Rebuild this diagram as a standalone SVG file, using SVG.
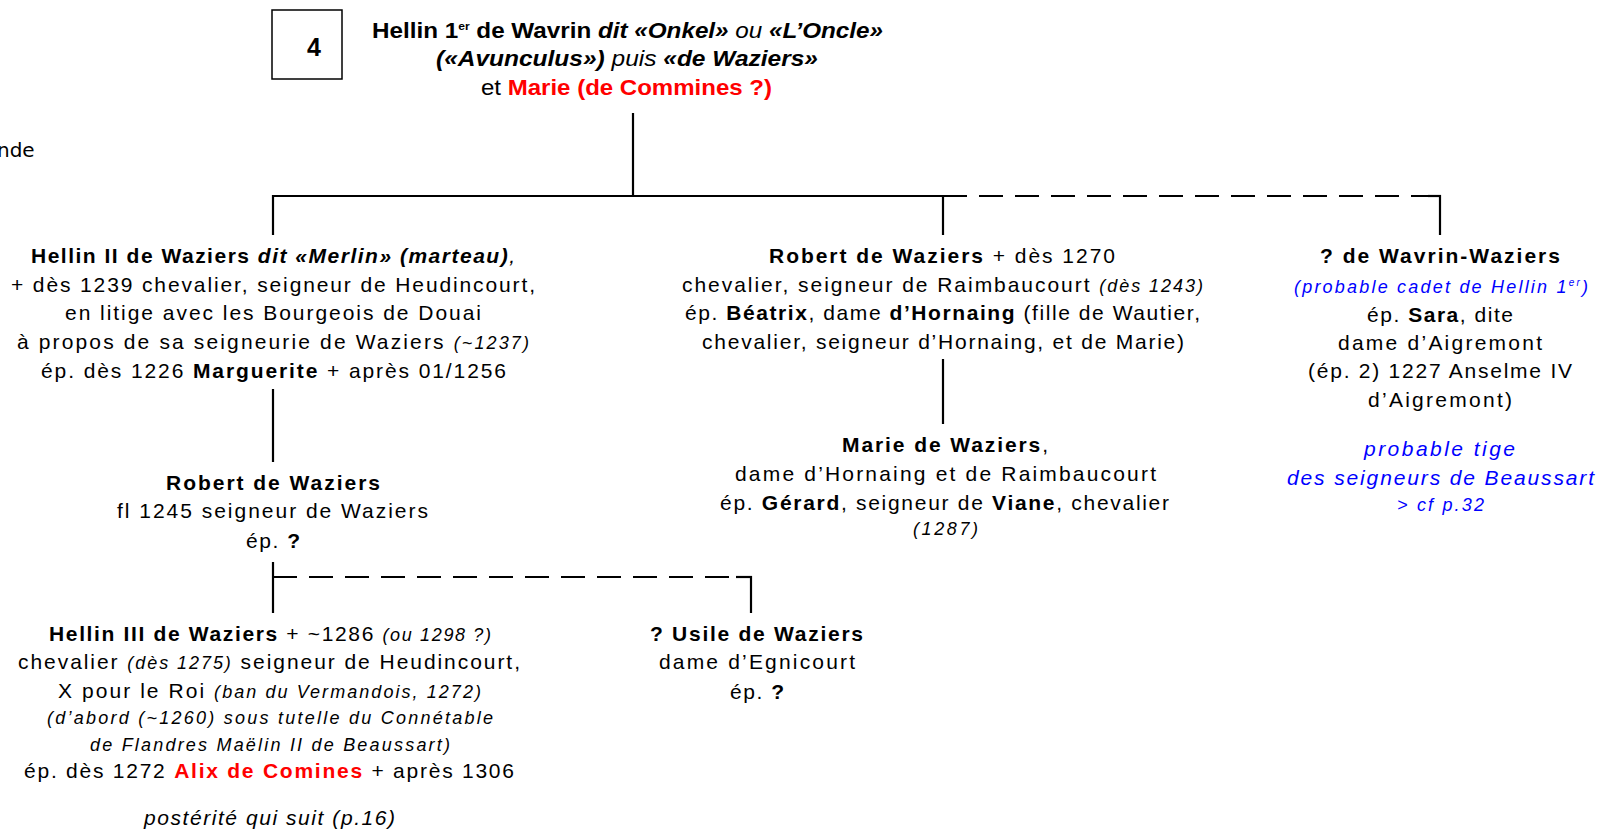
<svg xmlns="http://www.w3.org/2000/svg" width="1600" height="831" viewBox="0 0 1600 831">
<style>
text { font-family: "Liberation Sans", Arial, sans-serif; font-size: 21px; fill: #000; text-anchor: middle; }
.b { font-weight: bold; }
.i { font-style: italic; }
.s { font-size: 18px; }
.red { fill: #ff0000; }
.blue { fill: #0000ff; }
.ti { font-size: 22px; }
.ln { stroke: #000; stroke-width: 2.2; fill: none; }
.dash { stroke-dasharray: 24 12; }
</style>
<rect width="1600" height="831" fill="#fff"/>

<g id="connectors">
  <line class="ln" x1="633" y1="113" x2="633" y2="197"/>
  <line class="ln" x1="272" y1="196" x2="943" y2="196"/>
  <line class="ln dash" x1="943" y1="196" x2="1428" y2="196"/>
  <line class="ln" x1="1428" y1="196" x2="1441" y2="196"/>
  <line class="ln" x1="273" y1="195" x2="273" y2="235"/>
  <line class="ln" x1="943" y1="195" x2="943" y2="235"/>
  <line class="ln" x1="1440" y1="195" x2="1440" y2="235"/>
  <line class="ln" x1="273" y1="389" x2="273" y2="462"/>
  <line class="ln" x1="943" y1="359" x2="943" y2="424"/>
  <line class="ln" x1="273" y1="562" x2="273" y2="613"/>
  <line class="ln dash" x1="273" y1="577" x2="740" y2="577"/>
  <line class="ln" x1="736" y1="577" x2="752" y2="577"/>
  <line class="ln" x1="751" y1="576" x2="751" y2="613"/>
</g>

<g id="margin-text">
  <text x="-3" y="157" style="text-anchor:start;font-family:'DejaVu Sans',sans-serif;font-size:20px">nde</text>
</g>

<g id="box4">
  <rect x="272" y="10" width="70" height="69" fill="#fff" stroke="#000" stroke-width="1.5"/>
  <text x="314" y="56" class="b" style="font-size:25px">4</text>
</g>

<g id="n-hellin1">
  <text class="ti b" x="627.5" y="38" textLength="511" lengthAdjust="spacingAndGlyphs">Hellin 1<tspan dy="-8" style="font-size:11px">er</tspan><tspan dy="8"> de Wavrin </tspan><tspan class="i">dit «Onkel»</tspan><tspan style="font-weight:normal;font-style:italic"> ou </tspan><tspan class="i">«L’Oncle»</tspan></text>
  <text class="ti b i" x="627" y="66" textLength="382" lengthAdjust="spacingAndGlyphs">(«Avunculus»)<tspan style="font-weight:normal"> puis </tspan>«de Waziers»</text>
  <text class="ti" x="626.5" y="95" textLength="291" lengthAdjust="spacingAndGlyphs">et <tspan class="b red">Marie (de Commines ?)</tspan></text>
</g>

<g id="n-hellin2">
  <text x="273" y="263" textLength="484" class="b">Hellin II de Waziers <tspan class="i">dit «Merlin» (marteau)</tspan><tspan style="font-weight:normal;font-style:italic">,</tspan></text>
  <text x="273" y="292" textLength="524">+ dès 1239 chevalier, seigneur de Heudincourt,</text>
  <text x="273" y="320" textLength="416">en litige avec les Bourgeois de Douai</text>
  <text x="273" y="349" textLength="512">à propos de sa seigneurie de Waziers <tspan class="i s">(~1237)</tspan></text>
  <text x="273.5" y="378" textLength="465">ép. dès 1226 <tspan class="b">Marguerite</tspan> + après 01/1256</text>
</g>

<g id="n-robert1">
  <text x="273" y="490" textLength="214" class="b">Robert de Waziers</text>
  <text x="272.5" y="518" textLength="311">fl 1245 seigneur de Waziers</text>
  <text x="273" y="548" textLength="54">ép. <tspan class="b">?</tspan></text>
</g>

<g id="n-hellin3">
  <text x="270" y="641" textLength="442"><tspan class="b">Hellin III de Waziers</tspan> + ~1286 <tspan class="i s">(ou 1298 ?)</tspan></text>
  <text x="269" y="669" textLength="502">chevalier <tspan class="i s">(dès 1275)</tspan> seigneur de Heudincourt,</text>
  <text x="269.5" y="698" textLength="423">X pour le Roi <tspan class="i s">(ban du Vermandois, 1272)</tspan></text>
  <text x="270" y="724" textLength="446" class="i s">(d’abord (~1260) sous tutelle du Connétable</text>
  <text x="270" y="751" textLength="360" class="i s">de Flandres Maëlin II de Beaussart)</text>
  <text x="269" y="778" textLength="490">ép. dès 1272 <tspan class="b red">Alix de Comines</tspan> + après 1306</text>
  <text x="269.5" y="825" textLength="251" class="i">postérité qui suit (p.16)</text>
</g>

<g id="n-usile">
  <text x="756.5" y="641" textLength="213" class="b">? Usile de Waziers</text>
  <text x="757" y="669" textLength="196">dame d’Egnicourt</text>
  <text x="757" y="699" textLength="54">ép. <tspan class="b">?</tspan></text>
</g>

<g id="n-robert2">
  <text x="942" y="263" textLength="346"><tspan class="b">Robert de Waziers</tspan> + dès 1270</text>
  <text x="942.5" y="292" textLength="521">chevalier, seigneur de Raimbaucourt <tspan class="i s">(dès 1243)</tspan></text>
  <text x="942.5" y="320" textLength="515">ép. <tspan class="b">Béatrix</tspan>, dame <tspan class="b">d’Hornaing</tspan> (fille de Wautier,</text>
  <text x="943" y="349" textLength="482">chevalier, seigneur d’Hornaing, et de Marie)</text>
</g>

<g id="n-marie">
  <text x="945" y="452" textLength="206"><tspan class="b">Marie de Waziers</tspan>,</text>
  <text x="945.5" y="481" textLength="421">dame d’Hornaing et de Raimbaucourt</text>
  <text x="944.5" y="510" textLength="449">ép. <tspan class="b">Gérard</tspan>, seigneur de <tspan class="b">Viane</tspan>, chevalier</text>
  <text x="945.5" y="535" textLength="65" class="i s">(1287)</text>
</g>

<g id="n-wavrin">
  <text x="1440" y="263" textLength="240" class="b">? de Wavrin-Waziers</text>
  <text x="1441" y="293" textLength="294" class="i s blue">(probable cadet de Hellin 1<tspan dy="-7" style="font-size:10px">er</tspan><tspan dy="7">)</tspan></text>
  <text x="1440" y="322" textLength="146">ép. <tspan class="b">Sara</tspan>, dite</text>
  <text x="1440" y="350" textLength="204">dame d’Aigremont</text>
  <text x="1440" y="378" textLength="264">(ép. 2) 1227 Anselme IV</text>
  <text x="1440" y="407" textLength="144">d’Aigremont)</text>
  <text x="1439.5" y="456" textLength="151" class="i blue">probable tige</text>
  <text x="1440.5" y="485" textLength="307" class="i blue">des seigneurs de Beaussart</text>
  <text x="1440.5" y="511" textLength="87" class="i s blue">&gt; cf p.32</text>
</g>
</svg>
